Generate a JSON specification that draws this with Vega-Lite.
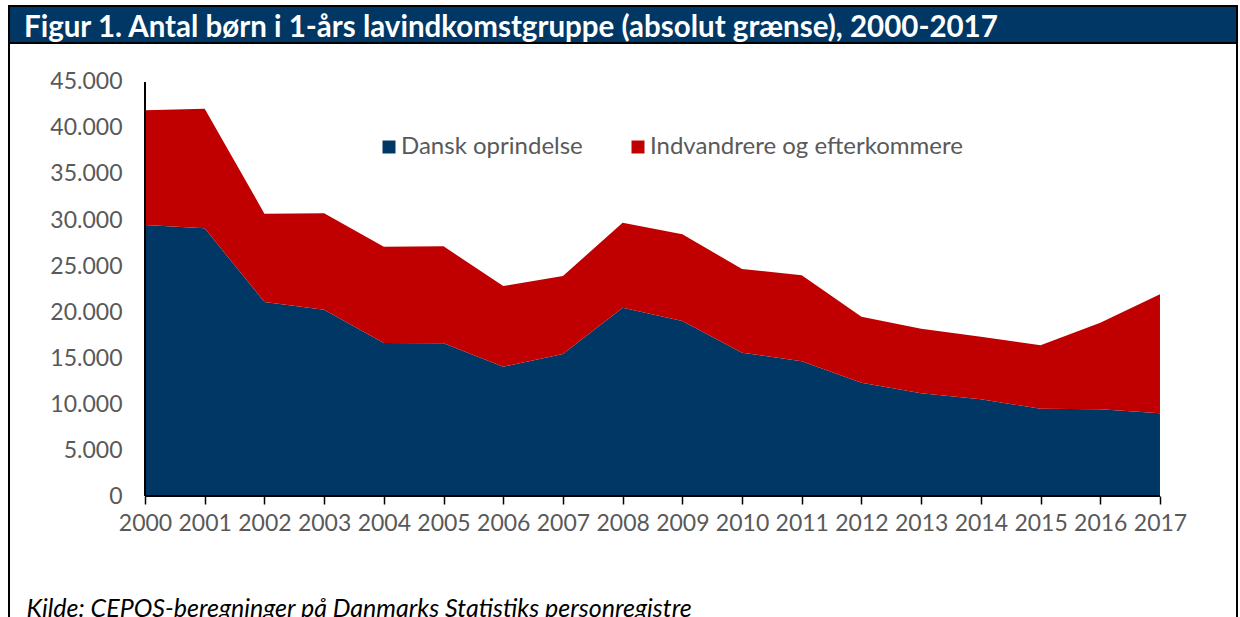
{
  "$schema": "https://vega.github.io/schema/vega-lite/v6.json",
  "padding": {"left": 8, "top": 5, "right": 0, "bottom": 0},
  "background": "white",
  "spacing": 0,
  "bounds": "flush",
  "config": {
    "font": "Lato",
    "view": {"stroke": null},
    "locale": {"number": {"decimal": ",", "thousands": ".", "grouping": [3], "currency": ["", " kr."]}}
  },
  "vconcat": [
    {
      "width": 1228,
      "height": 37,
      "view": {"fill": "#003764", "stroke": "#000000", "strokeWidth": 2},
      "title": {
        "text": "Figur 1. Antal børn i 1-års lavindkomstgruppe (absolut grænse), 2000-2017",
        "color": "#ffffff",
        "font": "Lato",
        "fontSize": 29.5,
        "fontWeight": "bold",
        "anchor": "start",
        "frame": "group",
        "orient": "top",
        "offset": -37,
        "dx": 15
      },
      "data": {"values": [{"t": ""}]},
      "mark": {"type": "text"},
      "encoding": {"text": {"field": "t"}}
    },
    {
      "width": 1228,
      "height": 580,
      "view": {"fill": "#ffffff", "stroke": "#000000", "strokeWidth": 2},
      "data": {"values": [
        {"year": 2000, "series": "Dansk oprindelse", "value": 29450},
        {"year": 2001, "series": "Dansk oprindelse", "value": 29100},
        {"year": 2002, "series": "Dansk oprindelse", "value": 21090},
        {"year": 2003, "series": "Dansk oprindelse", "value": 20250},
        {"year": 2004, "series": "Dansk oprindelse", "value": 16630},
        {"year": 2005, "series": "Dansk oprindelse", "value": 16600},
        {"year": 2006, "series": "Dansk oprindelse", "value": 14050},
        {"year": 2007, "series": "Dansk oprindelse", "value": 15430},
        {"year": 2008, "series": "Dansk oprindelse", "value": 20470},
        {"year": 2009, "series": "Dansk oprindelse", "value": 19020},
        {"year": 2010, "series": "Dansk oprindelse", "value": 15580},
        {"year": 2011, "series": "Dansk oprindelse", "value": 14640},
        {"year": 2012, "series": "Dansk oprindelse", "value": 12320},
        {"year": 2013, "series": "Dansk oprindelse", "value": 11160},
        {"year": 2014, "series": "Dansk oprindelse", "value": 10510},
        {"year": 2015, "series": "Dansk oprindelse", "value": 9490},
        {"year": 2016, "series": "Dansk oprindelse", "value": 9420},
        {"year": 2017, "series": "Dansk oprindelse", "value": 8990},
        {"year": 2000, "series": "Indvandrere og efterkommere", "value": 12470},
        {"year": 2001, "series": "Indvandrere og efterkommere", "value": 13000},
        {"year": 2002, "series": "Indvandrere og efterkommere", "value": 9600},
        {"year": 2003, "series": "Indvandrere og efterkommere", "value": 10480},
        {"year": 2004, "series": "Indvandrere og efterkommere", "value": 10470},
        {"year": 2005, "series": "Indvandrere og efterkommere", "value": 10540},
        {"year": 2006, "series": "Indvandrere og efterkommere", "value": 8770},
        {"year": 2007, "series": "Indvandrere og efterkommere", "value": 8480},
        {"year": 2008, "series": "Indvandrere og efterkommere", "value": 9240},
        {"year": 2009, "series": "Indvandrere og efterkommere", "value": 9420},
        {"year": 2010, "series": "Indvandrere og efterkommere", "value": 9100},
        {"year": 2011, "series": "Indvandrere og efterkommere", "value": 9350},
        {"year": 2012, "series": "Indvandrere og efterkommere", "value": 7170},
        {"year": 2013, "series": "Indvandrere og efterkommere", "value": 7020},
        {"year": 2014, "series": "Indvandrere og efterkommere", "value": 6800},
        {"year": 2015, "series": "Indvandrere og efterkommere", "value": 6890},
        {"year": 2016, "series": "Indvandrere og efterkommere", "value": 9410},
        {"year": 2017, "series": "Indvandrere og efterkommere", "value": 12930}
      ]},
      "layer": [
        {
          "mark": {"type": "area", "opacity": 1},
          "encoding": {
            "x": {
              "field": "year", "type": "quantitative",
              "scale": {"domain": [1997.722, 2018.29], "nice": false, "zero": false},
              "axis": {
                "values": [2000, 2001, 2002, 2003, 2004, 2005, 2006, 2007, 2008, 2009, 2010, 2011, 2012, 2013, 2014, 2015, 2016, 2017],
                "format": "d",
                "offset": -127,
                "domain": false,
                "grid": false,
                "ticks": true,
                "tickSize": 8,
                "tickColor": "#000000",
                "tickWidth": 1.5,
                "labelFont": "Lato",
                "labelFontSize": 23,
                "labelColor": "#595959",
                "labelPadding": 8,
                "labelFlush": false,
                "labelOverlap": false,
                "title": "Kilde: CEPOS-beregninger på Danmarks Statistiks personregistre",
                "titleFont": "Lato",
                "titleFontSize": 25,
                "titleFontStyle": "italic",
                "titleFontWeight": "normal",
                "titleColor": "#000000",
                "titleAnchor": "start",
                "titleAlign": "left",
                "titleBaseline": "alphabetic",
                "titleX": 17,
                "titleY": 120
              }
            },
            "y": {
              "field": "value", "type": "quantitative", "stack": "zero",
              "scale": {"domain": [-13804, 49239], "nice": false, "zero": false},
              "axis": {
                "values": [0, 5000, 10000, 15000, 20000, 25000, 30000, 35000, 40000, 45000],
                "format": ",d",
                "offset": -136,
                "domain": false,
                "grid": false,
                "ticks": false,
                "tickSize": 0,
                "labelFont": "Lato",
                "labelFontSize": 23,
                "labelColor": "#595959",
                "labelPadding": 23,
                "title": null
              }
            },
            "order": {"field": "series", "sort": "ascending"},
            "color": {
              "field": "series", "type": "nominal",
              "scale": {"domain": ["Dansk oprindelse", "Indvandrere og efterkommere"], "range": ["#003764", "#C00000"]},
              "legend": {
                "orient": "none",
                "legendX": 368,
                "legendY": 129,
                "direction": "horizontal",
                "title": null,
                "padding": 0,
                "symbolType": "square",
                "symbolSize": 169,
                "symbolStrokeWidth": 0,
                "symbolOpacity": 1,
                "labelFont": "Lato",
                "labelFontSize": 24,
                "labelColor": "#595959",
                "labelOffset": 0,
                "columnPadding": 43,
                "labelLimit": 500
              }
            }
          }
        },
        {
          "mark": {"type": "rule", "color": "#000000", "strokeWidth": 1.5},
          "encoding": {"x": {"datum": 2000}, "y": {"datum": 0}, "y2": {"datum": 45000}}
        },
        {
          "mark": {"type": "rule", "color": "#000000", "strokeWidth": 2},
          "encoding": {"y": {"datum": 0}, "x": {"datum": 2000}, "x2": {"datum": 2017}}
        }
      ]
    }
  ]
}
